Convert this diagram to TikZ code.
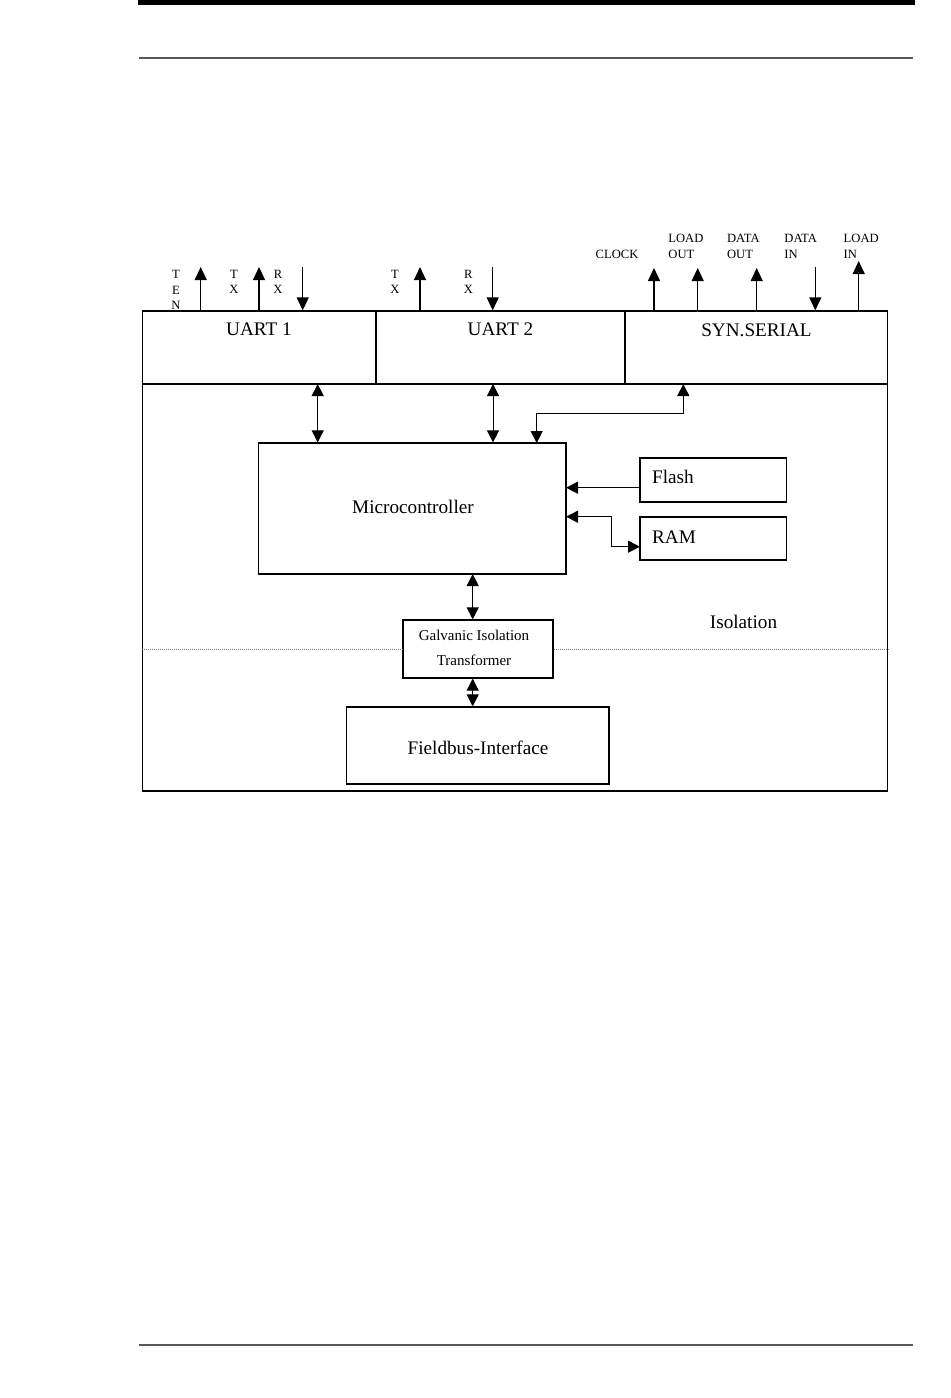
\documentclass[tikz,border=0pt]{standalone}
\usepackage{fontspec}
\setmainfont{Liberation Serif}
\usetikzlibrary{arrows.meta,fit}

\tikzset{
  box/.style={draw, line width=0.6pt, inner sep=0pt},
  bigtext/.style={font=\fontsize{9.6}{11}\selectfont, inner sep=0pt},
  galvtext/.style={font=\fontsize{7.5}{12.5}\selectfont, align=center, inner sep=0pt},
  pintext/.style={font=\fontsize{6.3}{7.8}\selectfont, align=center, inner sep=0pt},
  pin/.style={line width=0.6pt, -{Triangle[width=6pt,length=6.5pt]}},
  biarrow/.style={line width=0.5pt, {Triangle[width=6pt,length=6pt]}-{Triangle[width=6pt,length=6pt]}},
  onearrow/.style={line width=0.5pt, -{Triangle[width=6pt,length=6pt]}},
  isoline/.style={gray, line width=0.4pt, dash pattern=on 0.4pt off 0.6pt},
}

\begin{document}
\begin{tikzpicture}[x=0.5pt,y=-0.5pt]
\useasboundingbox (0,0) rectangle (950,1398);

\fill (138,0) rectangle (915,5);
\draw[gray!70!black,line width=0.7pt] (139,58) -- (913,58);
\draw[gray!70!black,line width=0.7pt] (139,1345) -- (913,1345);


\node[box, fit={(142.5,311) (887.5,791)}] (outer) {};
\node[box, fit={(142.5,311) (376,384)}] (uart1) {};
\node[box, fit={(376,311) (625,384)}] (uart2) {};
\node[box, fit={(625,311) (887.5,384)}] (syn) {};

\node[bigtext] (uart1txt) at (259,329) {UART 1};
\node[bigtext] (uart2txt) at (500.5,329) {UART 2};
\node[bigtext] (syntxt) at (756.5,330) {SYN.SERIAL};


\coordinate (ten) at (200.7,267);
\coordinate (tx1) at (259,267);
\coordinate (rx1) at (302.7,267);
\coordinate (tx2) at (420,267);
\coordinate (rx2) at (492.7,267);
\coordinate (clk) at (654,268);
\coordinate (ldo) at (697.7,268);
\coordinate (dto) at (756.7,268);
\coordinate (dti) at (815.3,267);
\coordinate (ldi) at (858.7,261);

\draw[pin] (ten |- uart1.north) -- (ten);
\draw[pin] (tx1 |- uart1.north) -- (tx1);
\draw[pin] (rx1) -- (rx1 |- uart1.north);
\draw[pin] (tx2 |- uart2.north) -- (tx2);
\draw[pin] (rx2) -- (rx2 |- uart2.north);
\draw[pin] (clk |- syn.north) -- (clk);
\draw[pin] (ldo |- syn.north) -- (ldo);
\draw[pin] (dto |- syn.north) -- (dto);
\draw[pin] (dti) -- (dti |- syn.north);
\draw[pin] (ldi |- syn.north) -- (ldi);

\node[pintext] (tenlbl) at (176,289.9) {T\\E\\N};
\node[pintext] (tx1lbl) at (234,281.8) {T\\X};
\node[pintext] (rx1lbl) at (278,281.8) {R\\X};
\node[pintext] (tx2lbl) at (395,281.8) {T\\X};
\node[pintext] (rx2lbl) at (468.3,281.8) {R\\X};
\node[pintext] (clklbl) at (617,254) {CLOCK};
\node[pintext, align=left, anchor=west] (ldolbl) at (668,246.5) {LOAD\\OUT};
\node[pintext, align=left, anchor=west] (dtolbl) at (726.7,246.5) {DATA\\OUT};
\node[pintext, align=left, anchor=west] (dtilbl) at (784,246.5) {DATA\\IN};
\node[pintext, align=left, anchor=west] (ldilbl) at (843.3,246.5) {LOAD\\IN};


\node[box, fit={(258.5,443) (566,574)}] (micro) {};
\node[bigtext] (microtxt) at (413,507) {Microcontroller};
\node[box, fit={(640,458) (786.5,502)}] (flash) {};
\node[box, fit={(640,517) (786.5,560)}] (ram) {};
\node[bigtext, anchor=west] (flashtxt) at (651.7,476.7) {Flash};
\node[bigtext, anchor=west] (ramtxt) at (651.7,536.7) {RAM};

\node[box, fit={(403,620) (553,678)}] (galv) {};
\node[galvtext] (galvtxt) at (474,648) {Galvanic Isolation\\Transformer};
\node[box, fit={(346.5,707) (609,784)}] (field) {};
\node[bigtext] (fieldtxt) at (478,748) {Fieldbus-Interface};
\node[bigtext] (isolbl) at (743.5,621.5) {Isolation};

\draw[isoline] (outer.west |- galv) -- (galv.west);
\draw[isoline] (galv.east) -- (outer.east |- galv);


\coordinate (bus1) at (317.7,384);
\coordinate (bus2) at (493,384);
\coordinate (bus3) at (683.3,384);
\coordinate (bus3in) at (536.7,443);
\draw[biarrow] (bus1) -- (bus1 |- micro.north);
\draw[biarrow] (bus2) -- (bus2 |- micro.north);
\draw[biarrow] (bus3) -- ++(0,29.7) -| (bus3in);

\coordinate (flin) at (566,487.7);
\coordinate (ramout) at (566,516.7);
\coordinate (ramin) at (640,546.7);
\draw[onearrow] (flash.west |- flin) -- (flin);
\draw[biarrow] (ramout) -- ++(45,0) |- (ramin);

\coordinate (iso) at (472.7,574);
\draw[biarrow] (iso) -- (iso |- galv.north);
\draw[biarrow] (iso |- galv.south) -- (iso |- field.north);

\end{tikzpicture}
\end{document}
